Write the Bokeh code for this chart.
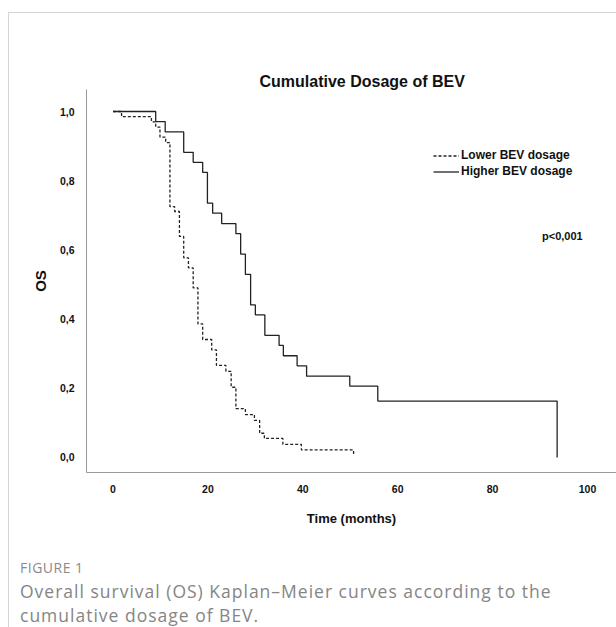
from bokeh.plotting import figure
from bokeh.models import FixedTicker, Legend, LegendItem, Label, Title, Range1d, Div
from bokeh.layouts import column
from bokeh.embed import file_html
from bokeh.resources import INLINE

# ---------------- data ----------------
title_text = "Cumulative Dosage of BEV"
x_label = "Time (months)"
y_label = "OS"
x_ticks = [0, 20, 40, 60, 80, 100]
y_ticks = [0.0, 0.2, 0.4, 0.6, 0.8, 1.0]
y_tick_labels = ["0,0", "0,2", "0,4", "0,6", "0,8", "1,0"]
series_names = ["Lower BEV dosage", "Higher BEV dosage"]

lower_time = [0, 1.8, 8.1, 9.0, 9.9, 11.1, 12.0, 13.0, 14.0, 14.9, 15.9, 16.9,
              17.9, 18.9, 20.8, 21.8, 23.8, 24.9, 25.9, 27.9, 29.8, 30.9, 31.9,
              35.8, 39.7, 50.7]
lower_surv = [1.0, 0.985, 0.970, 0.955, 0.926, 0.910, 0.725, 0.711, 0.639, 0.577,
              0.548, 0.490, 0.386, 0.341, 0.311, 0.266, 0.249, 0.203, 0.141, 0.124,
              0.107, 0.070, 0.055, 0.038, 0.022, 0.006]

higher_time = [0, 9.0, 11.0, 14.9, 16.9, 18.9, 19.9, 21.0, 22.9, 25.9, 26.9, 27.9,
               29.0, 30.0, 32.0, 35.0, 35.9, 38.8, 40.8, 49.9, 55.8, 93.6]
higher_surv = [1.0, 0.971, 0.941, 0.882, 0.853, 0.824, 0.735, 0.706, 0.676, 0.647,
               0.588, 0.529, 0.441, 0.412, 0.353, 0.324, 0.294, 0.265, 0.235, 0.206,
               0.163, 0.0]

p_value_text = "p<0,001"
p_value_pos = (94.7, 0.64)
figure_label = "FIGURE 1"
caption_lines = ["Overall survival (OS) Kaplan\u2013Meier curves according to the",
                 "cumulative dosage of BEV."]

# ---------------- figure ----------------
FONT = "Liberation Sans"
X0, X1 = -5.585, 106.11          # frame spans page x 86 .. 616
Y0, Y1 = -0.0434, 1.0636         # frame spans page y 89 .. 472
p = figure(width=607, height=527, output_backend="svg", toolbar_location=None,
           x_range=Range1d(X0, X1), y_range=Range1d(Y0, Y1),
           min_border_left=77, min_border_right=0, min_border_top=76,
           min_border_bottom=68)
p.background_fill_color = "white"
p.border_fill_color = "white"
p.outline_line_color = None
p.grid.visible = False

p.title = Title(text=title_text, align="left", offset=173, standoff=0,
                text_font=FONT, text_font_size="16px", text_font_style="bold",
                text_color="#111111")

r_low = p.step(lower_time, lower_surv, mode="after", line_color="#222222",
               line_width=1.3, line_dash="3 2")
r_high = p.step(higher_time, higher_surv, mode="after", line_color="#222222",
                line_width=1.3)

# axes
for ax in (p.xaxis[0], p.yaxis[0]):
    ax.axis_line_color = "#9a9a9a"
    ax.axis_line_width = 1
    ax.major_tick_in = 0
    ax.major_tick_out = 0
    ax.minor_tick_in = 0
    ax.minor_tick_out = 0
    ax.major_label_text_font = FONT
    ax.major_label_text_font_size = "10.5px"
    ax.major_label_text_font_style = "bold"
    ax.major_label_text_color = "#111111"
    ax.axis_label_text_font = FONT
    ax.axis_label_text_font_style = "bold"
    ax.axis_label_text_color = "#111111"

p.xaxis.ticker = FixedTicker(ticks=x_ticks)
p.xaxis.axis_label = x_label
p.xaxis.axis_label_text_font_size = "13px"
p.xaxis.major_label_standoff = 12
p.xaxis.axis_label_standoff = 15

p.yaxis.ticker = FixedTicker(ticks=y_ticks)
p.yaxis.major_label_overrides = dict(zip(y_ticks, y_tick_labels))
p.yaxis.axis_label = y_label
p.yaxis.axis_label_text_font_size = "15px"
p.yaxis.major_label_standoff = 12
p.yaxis.axis_label_standoff = 8

legend = Legend(items=[LegendItem(label=series_names[0], renderers=[r_low]),
                       LegendItem(label=series_names[1], renderers=[r_high])],
                location=(347, 294), orientation="vertical",
                label_text_font=FONT, label_text_font_size="12px",
                label_text_font_style="bold", label_text_color="#111111",
                glyph_width=26, glyph_height=13, label_height=13,
                label_standoff=2, spacing=2, padding=0, margin=0,
                border_line_color=None, background_fill_alpha=0)
p.add_layout(legend)

p.add_layout(Label(x=p_value_pos[0], y=p_value_pos[1], text=p_value_text,
                   text_font=FONT, text_font_size="11px", text_font_style="bold",
                   text_color="#111111", text_align="center",
                   text_baseline="middle"))

# ---------------- caption ----------------
caption_html = (
    '<div style="margin:0;padding:0 0 0 11px;font-family:\'Open Sans\',sans-serif;">'
    '<div style="margin:18px 0 0 0;font-size:14px;line-height:20px;color:#8a8a8a;'
    'letter-spacing:0.5px;">' + figure_label + '</div>'
    '<div style="margin:1px 0 0 0;font-size:17.5px;line-height:24px;color:#858585;'
    'letter-spacing:1px;">' + caption_lines[0] + '</div>'
    '<div style="margin:0;font-size:17.5px;line-height:24px;color:#858585;'
    'letter-spacing:1px;">' + caption_lines[1] + '</div></div>'
)
caption = Div(text=caption_html, width=607, height=87,
              styles={"margin": "0", "padding": "0"})

layout = column(p, caption, spacing=0)
layout.styles = {"margin-left": "8px", "margin-top": "12px",
                 "border-top": "1px solid #d4d4d4",
                 "border-left": "1px solid #d4d4d4"}

open("out.html", "w").write(file_html(layout, INLINE))
